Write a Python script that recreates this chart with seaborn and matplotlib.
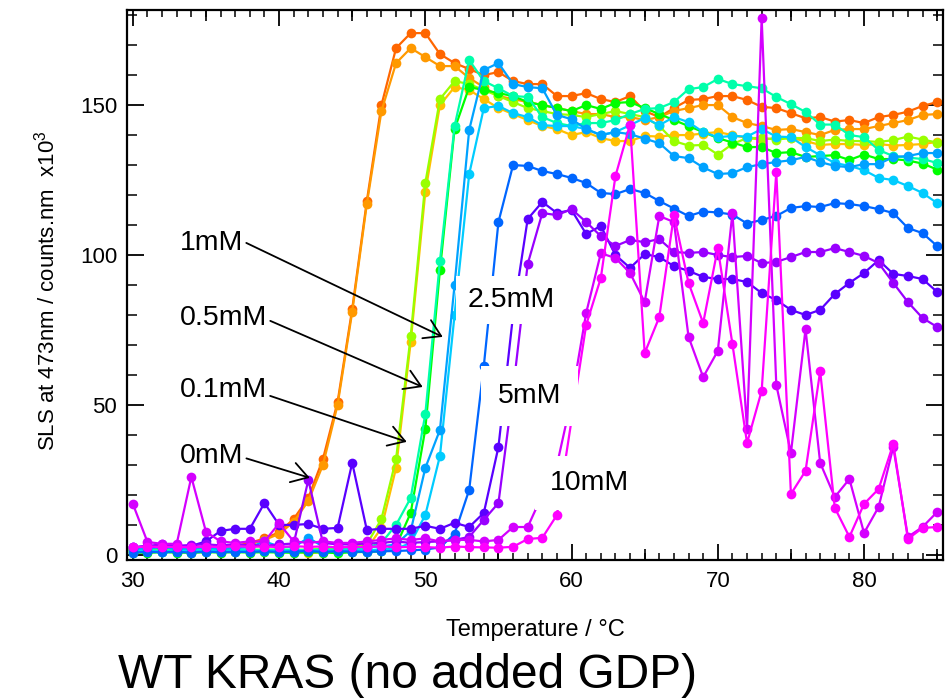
import matplotlib
matplotlib.use("Agg")
import matplotlib.pyplot as plt
import pandas as pd
import seaborn as sns
from matplotlib.ticker import FixedLocator, MultipleLocator

# ---------------- data ----------------
temps = list(range(30, 86))

sls_0mM_a = [2.0, 2.2, 2.0, 2.3, 2.2, 2.5, 2.8, 3.0,
             4.0, 5.5, 7.5, 12.0, 19.0, 32.0, 51.0, 82.0, 118.0, 150.0,
             169, 174, 174, 167, 164, 162, 160, 161, 158, 157,
             157, 153, 153, 154, 152, 151, 153, 148, 146, 149,
             151.7, 152, 153, 153, 151.7, 149.4, 149, 147.3, 145.6, 146,
             144.5, 145, 144, 146, 146.7, 147.8, 149.7, 151]
sls_0mM_b = [1.5, 1.8, 2.0, 1.8, 2.0, 2.2, 2.5, 2.8,
             3.5, 5.0, 7.0, 11.0, 18.0, 30.0, 50.0, 81.0, 117.0, 148.0,
             164, 169, 166, 163, 163, 159, 156, 153, 152, 151,
             150, 149, 148, 147, 147, 146, 146, 145, 146, 148,
             149, 150, 150, 146, 144, 143, 141.7, 142, 141, 140,
             141.7, 142, 142, 143, 144, 145, 146.7, 147]
sls_01mM_a = [1.2, 1.0, 1.3, 1.1, 1.0, 1.2, 1.4, 1.3,
              1.5, 1.6, 1.5, 1.2, 0.5, 1.0, 1.2, 1.5, 2.0, 9.0,
              29, 71, 121, 150, 156, 155, 152, 149, 147, 145,
              143, 142, 140, 141, 139, 138, 138, 139.7, 139.5, 140,
              140, 140.5, 141, 140, 139, 138.5, 139, 139, 138, 136.7,
              137, 137, 136.7, 137, 136.5, 136.7, 137, 137.7]
sls_01mM_b = [1.5, 1.4, 1.6, 1.5, 1.4, 1.6, 1.5, 1.7,
              1.6, 1.8, 1.7, 1.6, 1.8, 2.0, 2.2, 2.5, 3.5, 12.0,
              32, 73, 124, 152, 158, 157, 155, 153, 151, 149,
              148, 147, 146.7, 146, 147, 148, 147, 146, 143, 138,
              136.5, 136.7, 133.5, 137, 139, 139, 138.5, 139, 139, 138,
              138.5, 138, 138, 137.7, 138.3, 139.5, 138.5, 137.5]
sls_05mM_a = [0.8, 0.7, 0.9, 0.8, 0.7, 0.9, 0.8, 0.9,
              0.8, 0.9, 0.8, 0.7, 0.9, 0.8, 0.6, 0.9, 1.0, 1.2,
              3.0, 14.0, 42.0, 95.0, 142, 156, 155, 154, 153, 151,
              150, 149, 148, 150, 148.7, 150.7, 151, 149, 147, 145,
              143, 141, 139, 137.5, 136, 136, 134, 134.3, 132.7, 133,
              133.3, 131.7, 133.5, 132, 132, 131.5, 130.5, 128.5]
sls_05mM_b = [1.5, 1.6, 1.4, 1.5, 1.7, 1.5, 1.6, 1.5,
              1.7, 1.6, 1.8, 1.7, 1.6, 1.8, 1.7, 2.0, 2.5, 4.0,
              10, 19, 47, 98, 143, 165, 158, 155.6, 153, 152.7,
              146, 144, 143, 144, 144, 145, 147, 148.7, 149, 151,
              155.3, 156, 158.7, 157, 156.3, 155.6, 152.7, 150.3, 147.7, 143.5,
              143.5, 140, 139.3, 135, 133, 132.5, 132, 130.7]
sls_1mM_a = [1.2, 1.3, 1.1, 1.2, 1.3, 1.2, 1.4, 1.3,
             1.2, 1.4, 1.3, 1.2, 1.5, 1.3, 1.4, 1.5, 1.6, 1.8,
             2.0, 4.0, 13.3, 33, 80, 127, 149, 149.7, 147.3, 146,
             143.3, 143, 143, 142, 140, 141, 143.3, 145.7, 143.3, 146,
             144.3, 141, 139.3, 139.7, 139.5, 142, 139.5, 139.3, 136, 133.3,
             130.7, 129.7, 128.3, 125.7, 125, 123, 120.7, 117.3]
sls_1mM_b = [2.0, 2.2, 2.5, 2.0, 2.2, 2.4, 2.0, 2.3,
             2.5, 4.5, 2.8, 2.6, 5.7, 2.8, 2.5, 2.7, 2.6, 2.8,
             3.5, 8.0, 29, 41.7, 90, 141.7, 161.7, 164, 157, 156,
             155.6, 146.7, 145.3, 142, 140, 141, 140.3, 138.8, 137.3, 133,
             132.3, 129.2, 127, 127.3, 129.3, 130.3, 131, 131.6, 132.7, 131,
             129.7, 129.3, 130.3, 130.3, 132.7, 133, 134, 134]
sls_25mM = [0.8, 1.0, 0.9, 1.0, 0.8, 1.1, 0.9, 1.0,
            1.0, 1.2, 1.0, 1.1, 1.3, 1.0, 1.2, 1.1, 1.0, 1.2,
            1.3, 1.5, 1.8, 2.5, 7.0, 21.7, 63, 111, 130, 129.7,
            128, 127, 125.7, 124, 120.7, 120.3, 122, 120.7, 118, 115.5,
            113, 114.5, 114.2, 113.5, 110.5, 111.7, 113, 115.7, 116.3, 116,
            117.3, 117, 116.3, 115.3, 114, 109, 107.3, 103]
sls_5mM_a = [2.5, 3.0, 2.5, 3.0, 3.0, 4.5, 8.0, 8.7,
             8.7, 17.3, 10.0, 10.0, 10.3, 8.7, 9.0, 30.7, 8.3, 8.7,
             8.7, 8.7, 9.7, 8.7, 10.7, 9.3, 14.0, 36.0, 80.0, 112.0,
             117.7, 114, 115, 107, 109.7, 100, 95.7, 100.3, 99.3, 96.3,
             94.7, 92.7, 92, 92, 91, 87.3, 85, 81.7, 80, 81.7,
             87, 90.7, 94, 98.3, 93.7, 93, 92, 87.7]
sls_5mM_b = [2.5, 3.0, 3.5, 3.0, 3.3, 3.5, 3.2, 3.5,
             3.3, 3.0, 3.5, 3.8, 25.0, 4.0, 3.5, 3.5, 3.8, 4.0,
             4.5, 4.0, 4.3, 4.5, 5.0, 6.0, 11.7, 17.3, 55, 97,
             114, 113.3, 115.3, 111, 106.3, 103, 105, 104.3, 105.3, 101,
             100.7, 101, 100, 99.3, 99.7, 97.3, 97.7, 99.3, 101, 101,
             102.3, 101, 99.7, 97.3, 90.7, 84.3, 79, 76]
sls_10mM_a = [17.0, 4.3, 3.7, 3.7, 26.0, 7.7, 4.5, 4.0,
              4.5, 4.5, 10.5, 4.5, 4.0, 4.5, 4.0, 4.0, 4.5, 5.0,
              5.5, 5.0, 5.5, 4.5, 5.0, 5.0, 4.5, 5.0, 9.3, 9.3,
              20, 30, 52, 80.7, 100.6, 99, 94, 84.3, 113, 111,
              72.7, 59.3, 68, 114, 42, 179, 56.7, 34, 75.3, 30.7,
              19.3, 25.3, 7.3, 16, 36, 6, 9.3, 14.3]
sls_10mM_b = [2.5, 2.8, 2.6, 2.7, 2.5, 2.8, 2.6, 2.9,
              2.7, 2.8, 2.6, 2.9, 2.7, 2.8, 2.5, 2.7, 2.6, 2.9,
              2.5, 2.7, 2.6, 2.4, 2.8, 2.6, 2.5, 2.4, 2.7, 5.3,
              5.7, 13.3, 45, 76.7, 92.3, 126.3, 143.5, 67.3, 79.3, 113.3,
              90.7, 77.3, 102.3, 70.3, 37.3, 54.7, 127.7, 20.3, 28, 61.3,
              15.7, 6, 17, 22, 37, 5.3, 9, 9.3]

series_names = ["0mM a", "0mM b", "0.1mM a", "0.1mM b", "0.5mM a", "0.5mM b",
                "1mM a", "1mM b", "2.5mM", "5mM a", "5mM b", "10mM a", "10mM b"]
series_values = [sls_0mM_a, sls_0mM_b, sls_01mM_a, sls_01mM_b, sls_05mM_a, sls_05mM_b,
                 sls_1mM_a, sls_1mM_b, sls_25mM, sls_5mM_a, sls_5mM_b, sls_10mM_a, sls_10mM_b]
series_colors = ["#ff6600", "#ff9900", "#ffc000", "#99ff00", "#00ff00", "#00ffaa",
                 "#00ccff", "#00a2ff", "#0066ff", "#5a00ff", "#9900ff", "#d400ff", "#ff00ff"]

y_ticks = [0, 50, 100, 150]
x_ticks = [30, 40, 50, 60, 70, 80]
x_mid_ticks = [35, 45, 55, 65, 75, 85]

df = pd.concat([pd.DataFrame({"Temperature": temps, "SLS": v, "series": n})
                for n, v in zip(series_names, series_values)], ignore_index=True)

# ---------------- style ----------------
sns.set_style("ticks")
plt.rcParams["font.family"] = ["Liberation Sans", "DejaVu Sans"]
plt.rcParams["mathtext.fontset"] = "custom"
plt.rcParams["mathtext.rm"] = "Liberation Sans"
plt.rcParams["mathtext.it"] = "Liberation Sans:italic"
plt.rcParams["text.color"] = "black"
plt.rcParams["axes.labelcolor"] = "black"
plt.rcParams["xtick.color"] = "black"
plt.rcParams["ytick.color"] = "black"

fig = plt.figure(figsize=(9.51, 7.0), dpi=100)
ax = fig.add_axes([127 / 951, 1 - 560 / 700, 816 / 951, 550 / 700])

sns.lineplot(data=df, x="Temperature", y="SLS", hue="series", hue_order=series_names,
             palette=dict(zip(series_names, series_colors)), marker="o", markersize=7,
             markeredgewidth=0, linewidth=1.6, legend=False, sort=False, estimator=None, ax=ax)

ax.set_xlim(29.6, 85.4)
ax.set_ylim(-1.7, 181.7)

ax.xaxis.set_major_locator(FixedLocator(x_ticks))
ax.xaxis.set_minor_locator(MultipleLocator(1))
ax.yaxis.set_major_locator(FixedLocator(y_ticks))
ax.yaxis.set_minor_locator(MultipleLocator(10))
ax.tick_params(axis="both", which="both", direction="in", top=True, right=True,
               colors="black", labelcolor="black")
ax.tick_params(axis="x", which="major", length=11.5, width=1.3, labelsize=16, pad=8)
ax.tick_params(axis="x", which="minor", length=5, width=1.1)
ax.tick_params(axis="y", which="major", length=12, width=1.3, labelsize=16, pad=7)
ax.tick_params(axis="y", which="minor", length=7, width=1.1)

for loc in ["top", "bottom"]:
    sec = ax.secondary_xaxis(loc)
    sec.set_xticks(x_mid_ticks)
    sec.set_xticklabels([])
    sec.tick_params(direction="in", length=8, width=1.2, colors="black")
    for s in sec.spines.values():
        s.set_visible(False)

for s in ax.spines.values():
    s.set_visible(True)
    s.set_linewidth(1.6)
    s.set_color("black")

ax.set_xlabel("Temperature / °C", fontsize=17, color="black")
ax.xaxis.set_label_coords(0.5, -0.108)
ax.set_ylabel("SLS at 473nm / counts.nm  x10$^3$", fontsize=16, color="black")
ax.yaxis.set_label_coords(-0.083, 0.49)

# concentration labels with arrows
arrow_labels = [("1mM", (51.19, 72.7), (33.2, 101.7), 0.56),
                ("0.5mM", (49.82, 56.0), (33.2, 76.7), 0.44),
                ("0.1mM", (48.73, 37.7), (33.2, 52.7), 0.31),
                ("0mM", (42.1, 25.7), (33.2, 30.7), 0.44)]
for txt, tip, pos, ry in arrow_labels:
    ax.annotate(txt, xy=tip, xytext=pos, ha="left", va="baseline", fontsize=20.5,
                color="black",
                arrowprops=dict(arrowstyle="->,head_length=0.58,head_width=0.36",
                                color="black", lw=1.3, shrinkA=0, shrinkB=0,
                                relpos=(1.0, ry), mutation_scale=20))

box_labels = [("2.5mM", (52.9, 82.7), 0.4), ("5mM", (54.95, 50.7), 0.6), ("10mM", (58.5, 21.7), 0.5)]
for txt, pos, pad in box_labels:
    ax.text(pos[0], pos[1], txt, ha="left", va="baseline", fontsize=20.5, zorder=5,
            color="black", bbox=dict(boxstyle=f"square,pad={pad}", fc="white", ec="none"))

fig.text(118 / 951, 1 - 688 / 700, "WT KRAS (no added GDP)", fontsize=34.5,
         ha="left", va="baseline", color="black")

fig.savefig("out.png", dpi=100)
